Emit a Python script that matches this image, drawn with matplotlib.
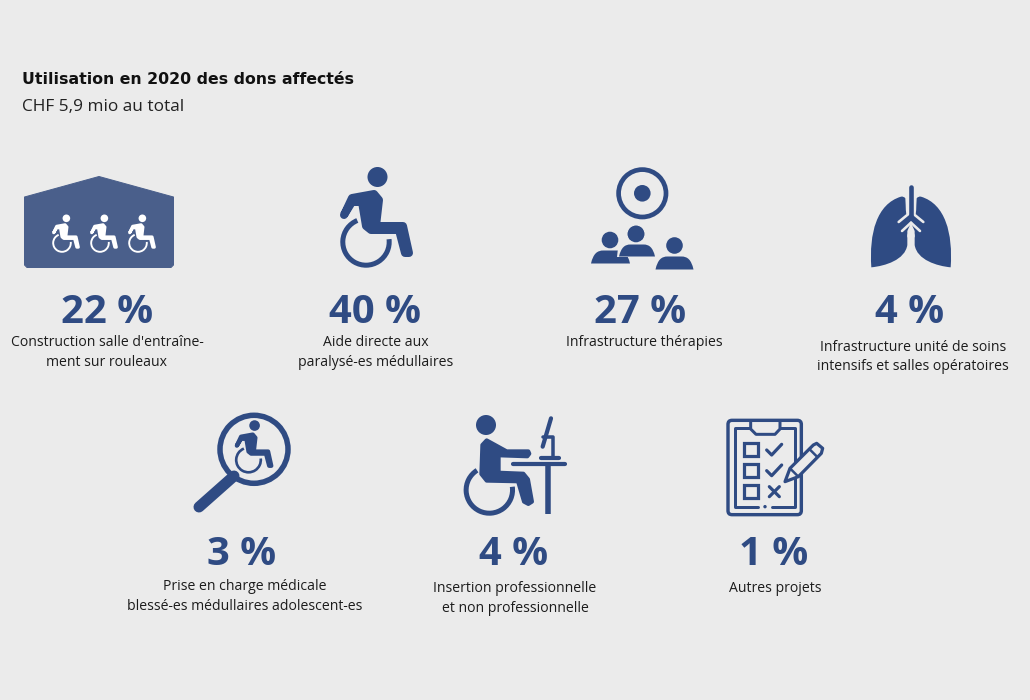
import numpy as np
import matplotlib
matplotlib.use("Agg")
import matplotlib.pyplot as plt
from matplotlib.patches import Circle, Arc, Polygon, PathPatch, FancyBboxPatch, Rectangle
from matplotlib.path import Path

# Values
percents = [22, 40, 27, 4, 3, 4, 1]
labels = [
    ["Construction salle d'entraîne-", "ment sur rouleaux"],
    ["Aide directe aux", "paralysé-es médullaires"],
    ["Infrastructure thérapies"],
    ["Infrastructure unité de soins", "intensifs et salles opératoires"],
    ["Prise en charge médicale", "blessé-es médullaires adolescent-es"],
    ["Insertion professionnelle", "et non professionnelle"],
    ["Autres projets"],
]
title = "Utilisation en 2020 des dons affectés"
subtitle = "CHF 5,9 mio au total"

# Layout in reference pixels
number_x = [107, 375, 640, 910, 242, 514, 774]
number_y = [323, 323, 323, 323, 565, 565, 565]
label_x = [107, 376, 644, 913, 245, 515, 775]
label_y = [346, 346, 346, 351, 590, 592, 592]

BG = "#ebebeb"
BLUE = "#2f4b83"
HOUSE = "#4a5f8b"
FONT = "Open Sans"
PX = 0.72  # one pixel in points at dpi 100

fig = plt.figure(figsize=(10.3, 7), dpi=100, facecolor=BG)
ax = fig.add_axes([0, 0, 1, 1])
ax.set_xlim(0, 1030)
ax.set_ylim(700, 0)
ax.axis("off")


def blob(points, color=BLUE, edge=0, z=3):
    ax.add_patch(Polygon(points, closed=True, fc=color, ec=color, lw=edge * PX,
                         joinstyle="round", zorder=z))


def stroke(points, width, color=BLUE, cap="round", z=3):
    xs, ys = zip(*points)
    ax.plot(xs, ys, color=color, lw=width * PX, solid_capstyle=cap,
            solid_joinstyle="round", zorder=z)


def curve(verts, codes, color=BLUE, z=3):
    ax.add_patch(PathPatch(Path(verts, codes), fc=color, ec="none", zorder=z))


def wheelchair(cx, cy, s, color=BLUE, z=3):
    # cx, cy is the wheel centre, offsets follow the big icon
    def p(x, y):
        return (cx + x * s, cy + y * s)
    ax.add_patch(Circle(p(11.5, -65), 10 * s, fc=color, ec="none", zorder=z))
    body = [(-22, -27), (-14, -44), (8, -48), (13, -42), (10, -16), (37, -16),
            (43, 11), (39, 11), (33, -12), (5, -12), (0, -16), (-4, -40), (-14, -40)]
    blob([p(*q) for q in body], color, 8 * s, z)
    ax.add_patch(Arc(p(0, 0), 46.4 * s, 46.4 * s, theta1=-7, theta2=248,
                     color=color, lw=5 * s * PX, zorder=z))


def shoulders(x0, x1, base, top, z=3, color=BLUE):
    w = x1 - x0
    verts = [(x0, base), (x0 + w * 0.06, top + 3), (x0 + w * 0.16, top), (x0 + w * 0.32, top),
             (x1 - w * 0.32, top), (x1 - w * 0.16, top), (x1 - w * 0.06, top + 3), (x1, base),
             (x0, base)]
    codes = [Path.MOVETO, Path.CURVE4, Path.CURVE4, Path.CURVE4, Path.LINETO,
             Path.CURVE4, Path.CURVE4, Path.CURVE4, Path.CLOSEPOLY]
    curve(verts, codes, color, z)


def draw_house():
    pts = [(24.5, 197), (99, 176.5), (173.5, 197), (173.5, 265), (171, 267.5), (27, 267.5), (24.5, 265)]
    blob(pts, HOUSE, 1)
    for cx in (62, 100, 138):
        wheelchair(cx, 243, 0.38, "white", z=4)


def draw_target_people():
    ax.add_patch(Circle((642.3, 193.3), 23.7, fc="none", ec=BLUE, lw=4.7 * PX))
    ax.add_patch(Circle((642.3, 193.3), 8.3, fc=BLUE, ec="none"))
    for hx, hy in [(610, 240), (636, 234), (674.5, 245.5)]:
        ax.add_patch(Circle((hx, hy), 8.3, fc=BLUE, ec="none"))
    # left person sits behind the front one, with a thin gap
    shoulders(591, 630, 263.5, 250.5)
    blob([(617, 257), (660, 257), (660, 240), (626, 240), (618, 248)], BG, z=4)
    ax.add_patch(Rectangle((628, 256.5), 3, 1.5, fc=BG, ec="none", zorder=4))
    shoulders(619, 655, 256.5, 244.5, z=5)
    shoulders(655.5, 693.5, 269.5, 256.5)
    ax.add_patch(Circle((636, 234), 8.3, fc=BLUE, ec="none", zorder=6))


def draw_lungs():
    def z(x, y):
        return (865 + x / 3, 180 + y / 3)

    def both(x, y, sign):
        return z(138 + sign * (x - 138), y)
    for sign in (1, -1):
        m = lambda x, y: both(x, y, sign)
        verts = [m(19, 262), m(12, 160), m(35, 72), m(108, 50), m(116, 48),
                 m(121, 55), m(122, 75), m(122, 92), m(124, 102), m(140, 105),
                 m(140, 132), m(127, 165), m(127, 195), m(120, 240), m(60, 258), m(19, 262),
                 m(19, 262)]
        codes = [Path.MOVETO, Path.CURVE4, Path.CURVE4, Path.CURVE4, Path.CURVE3, Path.CURVE3,
                 Path.LINETO, Path.CURVE3, Path.CURVE3, Path.LINETO,
                 Path.LINETO, Path.LINETO, Path.LINETO, Path.CURVE4, Path.CURVE4, Path.CURVE4,
                 Path.CLOSEPOLY]
        curve(verts, codes)
        # light channels around the bronchi
        stroke([m(101, 126), m(129, 103), m(129, 88)], 2.6, BG, z=4)
        stroke([m(111, 153), m(138, 128)], 2.6, BG, z=4)
    blob([z(138, 128), z(127, 153), z(127, 172), z(149, 172), z(149, 153)], BG, z=4)
    stroke([z(138, 20), z(138, 108)], 4.6, z=5)


def draw_magnifier():
    ax.add_patch(Circle((254, 449.3), 34, fc="none", ec=BLUE, lw=5.5 * PX, zorder=3))
    stroke([(234, 476), (199, 507)], 11)
    wheelchair(248.5, 460, 0.53)


def draw_desk():
    ox, oy = 170, 400

    def z(x, y):
        return (ox + x / 3, oy + y / 3)
    ax.add_patch(Circle(z(948, 75), 10, fc=BLUE, ec="none"))
    body = [(937, 135), (950, 121), (1010, 154), (1075, 154), (1078, 161), (1072, 169),
            (986, 166), (986, 218), (1060, 221), (1074, 238), (1086, 305), (1075, 312),
            (1062, 305), (1044, 244), (950, 242), (934, 222)]
    blob([z(*q) for q in body], BLUE, 4)
    ax.add_patch(Arc(z(958, 270), 46.4, 46.4, theta1=-8, theta2=238, color=BLUE,
                     lw=5 * PX, zorder=3))
    stroke([z(1030, 193), z(1186, 193)], 4.2)
    stroke([z(1135, 193), z(1135, 342)], 5.5, cap="butt")
    stroke([z(1143, 55), z(1118, 140)], 4.2)
    stroke([z(1118, 112), z(1150, 112), z(1150, 172)], 3.5)
    stroke([z(1114, 174), z(1166, 174)], 4.2)


def draw_clipboard():
    ox, oy = 700, 405

    def z(x, y):
        return (ox + x / 3, oy + y / 3)
    ax.add_patch(FancyBboxPatch(z(84, 46), 220 / 3, 283 / 3, boxstyle="round,pad=0,rounding_size=4",
                                fc="none", ec=BLUE, lw=3.4 * PX))
    stroke([z(150, 70), z(105, 70), z(105, 305), z(175, 305)], 3)
    stroke([z(240, 70), z(285, 70), z(285, 305), z(215, 305)], 3)
    ax.add_patch(Circle(z(195, 305), 1.7, fc=BLUE, ec="none"))
    # clip on the top edge
    stroke([z(152, 48), z(152, 72), z(168, 88), z(225, 88), z(240, 72), z(240, 48)], 3)
    for top in (113, 176, 240):
        ax.add_patch(Rectangle(z(133, top), 42 / 3, 40 / 3, fc="none", ec=BLUE, lw=3.2 * PX))
    stroke([z(200, 135), z(215, 150), z(245, 118)], 3.2)
    stroke([z(200, 197), z(215, 212), z(245, 180)], 3.2)
    stroke([z(208, 245), z(238, 275)], 3.2)
    stroke([z(238, 245), z(208, 275)], 3.2)
    # pencil
    pencil = [z(255, 230), z(270, 190), z(340, 120), z(350, 115), z(368, 130), z(364, 145), z(295, 215)]
    ax.add_patch(Polygon(pencil, closed=True, fc=BG, ec=BLUE, lw=3.2 * PX, joinstyle="round", zorder=4))
    stroke([z(270, 190), z(295, 215)], 2.5, z=5)
    stroke([z(328, 132), z(352, 156)], 2.5, z=5)


draw_house()
wheelchair(366, 242, 1.0)
draw_target_people()
draw_lungs()
draw_magnifier()
draw_desk()
draw_clipboard()

ax.text(22, 84, title, fontsize=15.75 * PX, fontweight="bold", family="DejaVu Sans", color="#111111")
ax.text(22, 111, subtitle, fontsize=17.2 * PX, family=FONT, color="#222222")

for i, pct in enumerate(percents):
    ax.text(number_x[i], number_y[i], f"{pct} %", fontsize=40 * PX, fontweight="bold",
            family=FONT, color=BLUE, ha="center", va="baseline")
    for j, line in enumerate(labels[i]):
        ax.text(label_x[i], label_y[i] + j * 19.5, line, fontsize=14.0 * PX, family=FONT,
                color="#1c1c1c", ha="center", va="baseline")

fig.savefig("out.png", dpi=100, facecolor=BG)
plt.close(fig)
